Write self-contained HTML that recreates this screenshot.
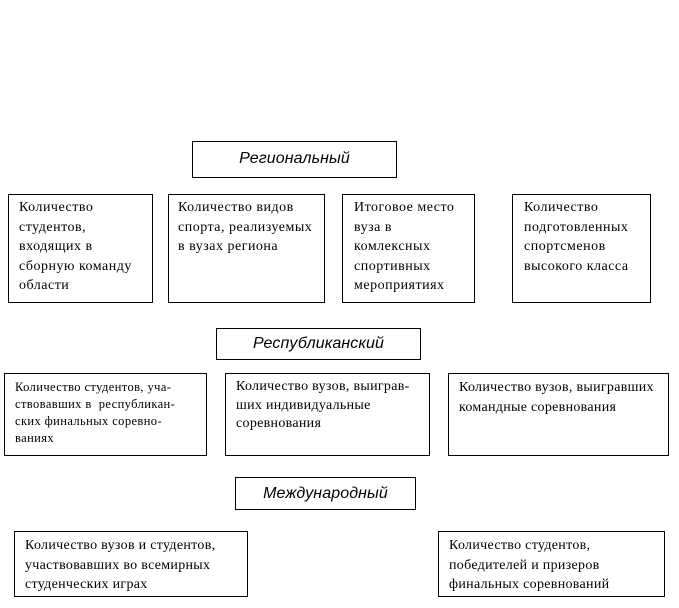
<!DOCTYPE html>
<html><head><meta charset="utf-8"><style>
body{margin:0;width:679px;height:608px;background:#fff;position:relative;overflow:hidden;font-family:"Liberation Serif","DejaVu Serif",serif;color:#000}
.b{position:absolute;border:1px solid #000;box-sizing:border-box;font-size:14px;white-space:nowrap}
.r1{letter-spacing:0.5px}
.r2{letter-spacing:0.3px}
.t{font-family:"Liberation Sans",sans-serif;font-style:italic;font-size:16px;text-align:center;letter-spacing:0.1px}
</style></head><body>
<div class="b t" style="left:192px;top:141px;width:205px;height:37px;line-height:34px">Региональный</div>
<div class="b r1" style="left:8px;top:194px;width:145px;height:109px;padding:3px 0 0 10px;line-height:19.5px">Количество<br>студентов,<br>входящих в<br>сборную команду<br>области</div>
<div class="b r1" style="left:168px;top:194px;width:157px;height:109px;padding:3px 0 0 9px;line-height:19.5px">Количество видов<br>спорта, реализуемых<br>в вузах региона</div>
<div class="b r1" style="left:342px;top:194px;width:133px;height:109px;padding:3px 0 0 11px;line-height:19.5px">Итоговое место<br>вуза в<br>комлексных<br>спортивных<br>мероприятиях</div>
<div class="b r1" style="left:512px;top:194px;width:139px;height:109px;padding:3px 0 0 11px;line-height:19.5px">Количество<br>подготовленных<br>спортсменов<br>высокого класса</div>
<div class="b t" style="left:216px;top:328px;width:205px;height:32px;line-height:30px">Республиканский</div>
<div class="b" style="left:4px;top:373px;width:203px;height:83px;padding:5px 0 0 10px;line-height:17px;font-size:12.5px;letter-spacing:0.4px">Количество студентов, уча-<br>ствовавших в&nbsp; республикан-<br>ских финальных соревно-<br>ваниях</div>
<div class="b r2" style="left:225px;top:373px;width:205px;height:83px;padding:4px 0 0 10px;line-height:18.5px">Количество вузов, выиграв-<br>ших индивидуальные<br>соревнования</div>
<div class="b r2" style="left:448px;top:373px;width:221px;height:83px;padding:4px 0 0 10px;line-height:20px">Количество вузов, выигравших<br>командные соревнования</div>
<div class="b t" style="left:235px;top:477px;width:181px;height:33px;line-height:31px">Международный</div>
<div class="b r2" style="left:14px;top:531px;width:234px;height:66px;padding:4px 0 0 10px;line-height:19.5px">Количество вузов и студентов,<br>участвовавших во всемирных<br>студенческих играх</div>
<div class="b r2" style="left:438px;top:531px;width:227px;height:66px;padding:4px 0 0 10px;line-height:19.5px">Количество студентов,<br>победителей и призеров<br>финальных соревнований</div>
</body></html>
